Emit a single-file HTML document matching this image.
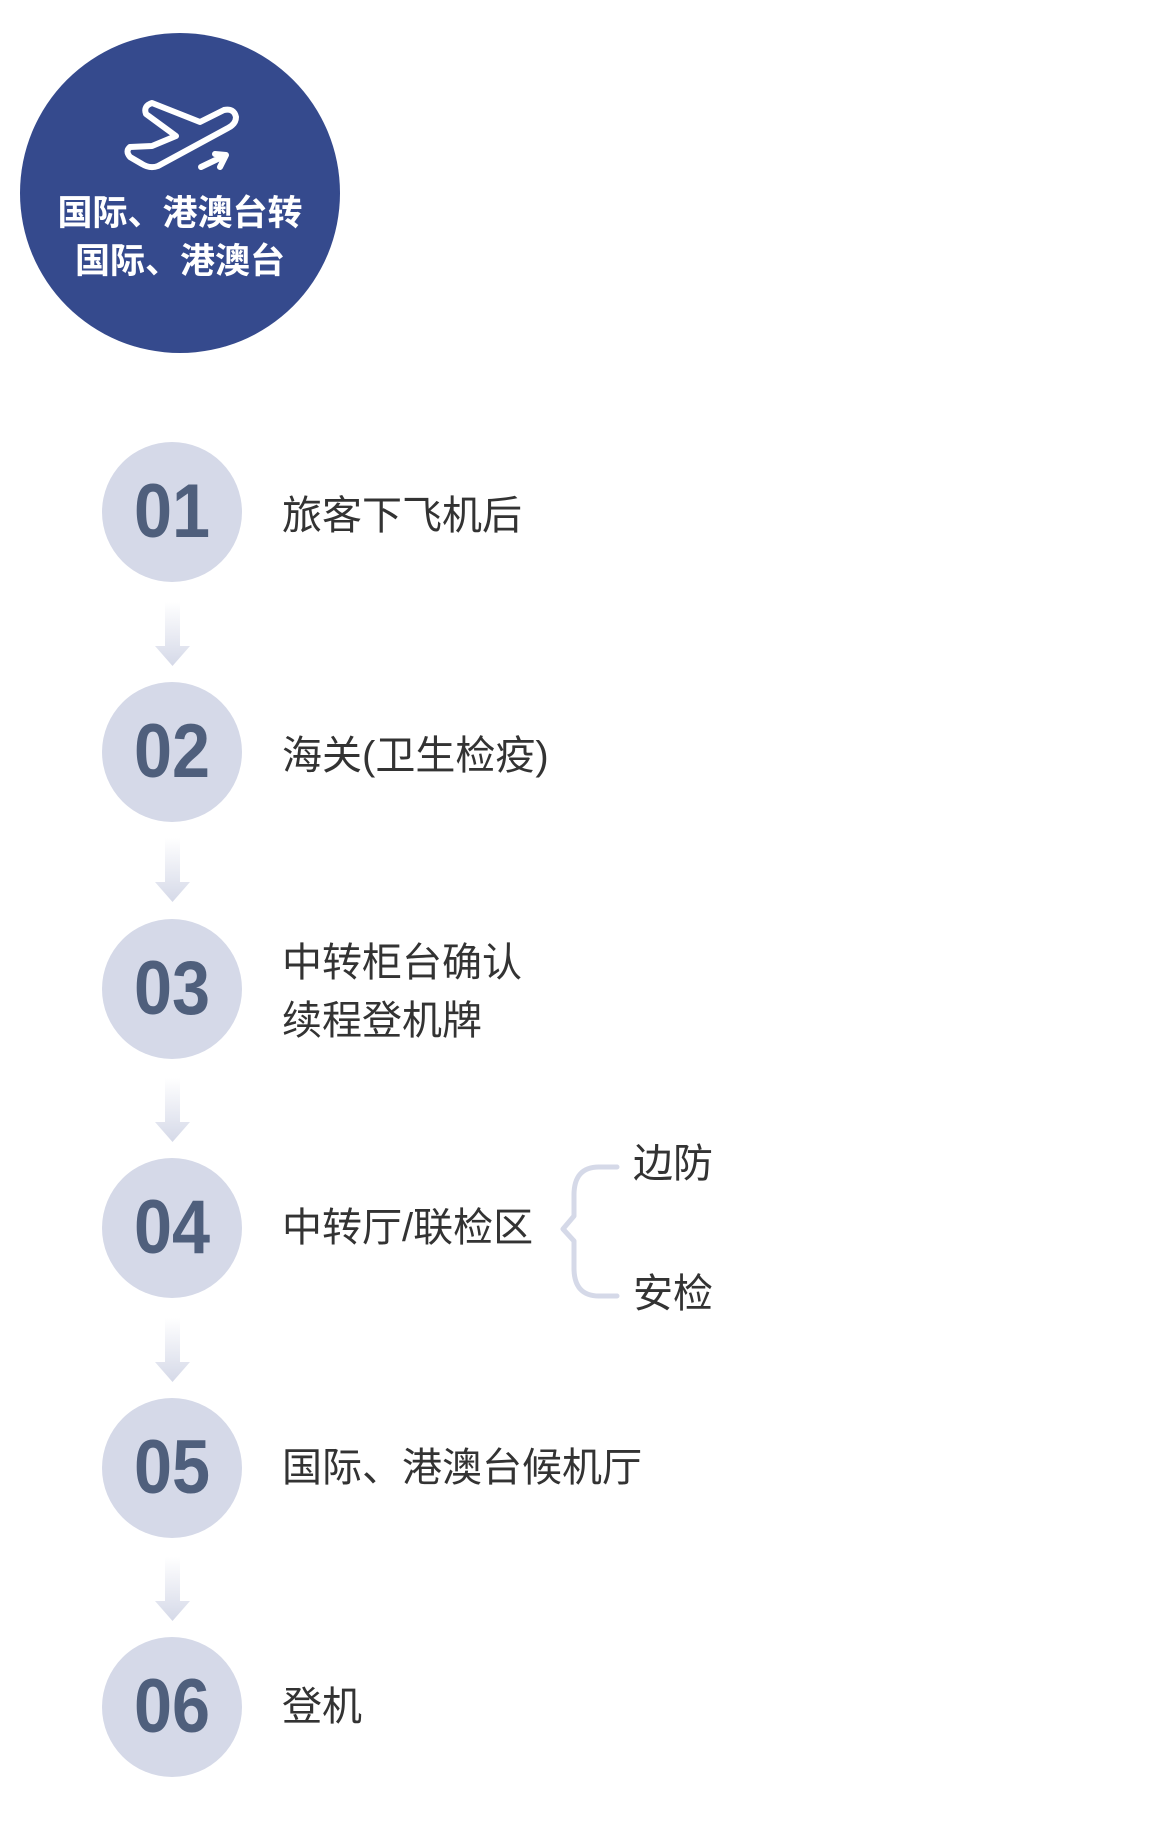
<!DOCTYPE html>
<html><head><meta charset="utf-8">
<style>
html,body{margin:0;padding:0;background:#fff;}
body{width:1160px;height:1840px;position:relative;overflow:hidden;font-family:"Liberation Sans","Noto Sans CJK SC",sans-serif;}
.c{position:absolute;width:140px;height:140px;border-radius:50%;background:#d5d9e8;left:102px;}
.n{position:absolute;width:140px;left:102px;text-align:center;font-weight:bold;font-size:76px;color:#4f5f7c;line-height:76px;font-family:"Liberation Sans",sans-serif;transform:scaleX(0.9);}
.t{position:absolute;left:282px;font-size:40px;color:#333;line-height:44px;white-space:nowrap;font-family:"Liberation Sans","Noto Sans CJK SC",sans-serif;}
</style></head><body>
<svg width="1160" height="1840" style="position:absolute;left:0;top:0">
<defs>
<linearGradient id="g" x1="0" y1="0" x2="0" y2="1">
<stop offset="0" stop-color="#ffffff"/><stop offset="1" stop-color="#d5d9e8"/>
</linearGradient>
</defs>
<circle cx="180" cy="193" r="160" fill="#354a8d"/>
<g fill="none" stroke="#fff" stroke-width="6" stroke-linejoin="round" stroke-linecap="round">
<path d="M130 147 L152 146 L176 136 L146 114 Q143 106 152 103 L200 122 L224 110 Q234 108 236 117 Q236 124 228 128 L158 166 Q150 169 142 164 L130 157 Q125 151 130 147 Z"/>
<path d="M201 167 L226 155 M215 154 L226 155 L220 167"/>
</g>
<g fill="url(#g)">
<path d="M165 602 h15 v44 h10 l-17.5 20 l-17.5 -20 h10 Z"/>
<path d="M165 838 h15 v44 h10 l-17.5 20 l-17.5 -20 h10 Z"/>
<path d="M165 1078 h15 v44 h10 l-17.5 20 l-17.5 -20 h10 Z"/>
<path d="M165 1318 h15 v44 h10 l-17.5 20 l-17.5 -20 h10 Z"/>
<path d="M165 1557 h15 v44 h10 l-17.5 20 l-17.5 -20 h10 Z"/>
</g>
<path d="M617 1167 H599 Q574 1167 574 1195 V1216 L563 1229 L574 1241 V1268 Q574 1296 599 1296 H617" fill="none" stroke="#d5d9e8" stroke-width="5" stroke-linecap="round" stroke-linejoin="round"/>
</svg>
<div style="position:absolute;left:20px;width:320px;top:190px;text-align:center;color:#fff;font-weight:bold;font-size:35px;line-height:48px;font-family:'Liberation Sans','Noto Sans CJK SC',sans-serif;">国际、港澳台转<br>国际、港澳台</div>

<div class="c" style="top:442px"></div><div class="n" style="top:474px">01</div>
<div class="t" style="top:494px">旅客下飞机后</div>
<div class="c" style="top:682px"></div><div class="n" style="top:714px">02</div>
<div class="t" style="top:734px">海关(卫生检疫)</div>
<div class="c" style="top:919px"></div><div class="n" style="top:951px">03</div>
<div class="t" style="top:941px">中转柜台确认</div>
<div class="t" style="top:999px">续程登机牌</div>
<div class="c" style="top:1158px"></div><div class="n" style="top:1190px">04</div>
<div class="t" style="top:1206px">中转厅/联检区</div>
<div class="t" style="top:1142px;left:633px">边防</div>
<div class="t" style="top:1272px;left:633px">安检</div>
<div class="c" style="top:1398px"></div><div class="n" style="top:1430px">05</div>
<div class="t" style="top:1446px">国际、港澳台候机厅</div>
<div class="c" style="top:1637px"></div><div class="n" style="top:1669px">06</div>
<div class="t" style="top:1685px">登机</div>
</body></html>
